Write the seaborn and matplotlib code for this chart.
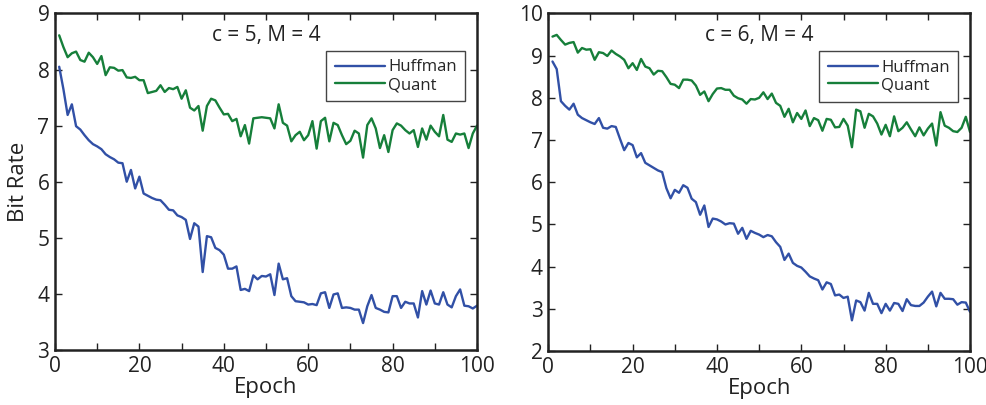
import numpy as np
import pandas as pd
import matplotlib
matplotlib.use("Agg")
import matplotlib.pyplot as plt
import seaborn as sns

epochs = list(range(1, 101))

huff_c5 = [8.05, 7.65, 7.19, 7.38, 6.99, 6.93, 6.83, 6.74, 6.67, 6.63,
           6.58, 6.49, 6.44, 6.40, 6.34, 6.33, 6.00, 6.21, 5.88, 6.09,
           5.79, 5.75, 5.71, 5.68, 5.67, 5.59, 5.50, 5.49, 5.40, 5.37,
           5.32, 4.98, 5.26, 5.20, 4.39, 5.03, 5.01, 4.82, 4.78, 4.70,
           4.45, 4.45, 4.49, 4.07, 4.09, 4.05, 4.33, 4.26, 4.32, 4.31,
           4.35, 3.98, 4.54, 4.26, 4.28, 3.96, 3.87, 3.86, 3.85, 3.81,
           3.82, 3.80, 4.01, 4.03, 3.75, 3.99, 4.01, 3.75, 3.76, 3.75,
           3.72, 3.72, 3.48, 3.78, 3.98, 3.75, 3.72, 3.68, 3.67, 3.96,
           3.96, 3.75, 3.86, 3.83, 3.83, 3.58, 4.05, 3.81, 4.06, 3.83,
           3.81, 4.03, 3.81, 3.76, 3.96, 4.08, 3.79, 3.78, 3.74, 3.79]

quant_c5 = [8.61, 8.40, 8.22, 8.29, 8.32, 8.17, 8.14, 8.30, 8.22, 8.10,
            8.24, 7.90, 8.04, 8.03, 7.98, 7.99, 7.86, 7.85, 7.87, 7.81,
            7.81, 7.58, 7.60, 7.62, 7.72, 7.60, 7.67, 7.65, 7.69, 7.48,
            7.63, 7.32, 7.27, 7.35, 6.91, 7.35, 7.48, 7.45, 7.32, 7.20,
            7.21, 7.08, 7.12, 6.81, 7.01, 6.68, 7.13, 7.14, 7.15, 7.14,
            7.13, 6.95, 7.38, 7.05, 7.00, 6.72, 6.83, 6.89, 6.74, 6.83,
            7.08, 6.59, 7.08, 7.14, 6.72, 7.05, 7.01, 6.83, 6.67, 6.73,
            6.91, 6.86, 6.43, 7.01, 7.13, 6.95, 6.60, 6.83, 6.53, 6.92,
            7.04, 7.00, 6.92, 6.86, 6.92, 6.62, 6.95, 6.75, 7.00, 6.89,
            6.81, 7.19, 6.75, 6.71, 6.86, 6.84, 6.86, 6.60, 6.86, 7.00]

huff_c6 = [8.86, 8.68, 7.92, 7.81, 7.72, 7.86, 7.60, 7.52, 7.47, 7.42,
           7.38, 7.52, 7.29, 7.27, 7.33, 7.31, 7.03, 6.76, 6.93, 6.88,
           6.59, 6.69, 6.46, 6.40, 6.34, 6.28, 6.24, 5.86, 5.62, 5.82,
           5.75, 5.93, 5.87, 5.61, 5.53, 5.23, 5.45, 4.94, 5.14, 5.12,
           5.07, 5.00, 5.03, 5.02, 4.78, 4.92, 4.66, 4.85, 4.80, 4.76,
           4.70, 4.75, 4.72, 4.58, 4.47, 4.16, 4.31, 4.09, 4.02, 3.98,
           3.88, 3.77, 3.72, 3.68, 3.46, 3.63, 3.59, 3.32, 3.34, 3.26,
           3.29, 2.73, 3.20, 3.16, 2.96, 3.38, 3.12, 3.12, 2.90, 3.12,
           2.96, 3.14, 3.12, 2.95, 3.23, 3.09, 3.07, 3.07, 3.15, 3.29,
           3.41, 3.06, 3.38, 3.24, 3.24, 3.23, 3.10, 3.16, 3.15, 2.93]

quant_c6 = [9.45, 9.49, 9.37, 9.26, 9.30, 9.32, 9.07, 9.18, 9.14, 9.15,
            8.90, 9.08, 9.06, 8.99, 9.12, 9.04, 8.98, 8.90, 8.70, 8.82,
            8.66, 8.92, 8.74, 8.70, 8.55, 8.64, 8.63, 8.49, 8.33, 8.31,
            8.23, 8.43, 8.43, 8.41, 8.29, 8.07, 8.15, 7.92, 8.09, 8.22,
            8.23, 8.19, 8.19, 8.05, 7.99, 7.96, 7.86, 7.97, 7.96, 8.00,
            8.13, 7.97, 8.10, 7.88, 7.81, 7.55, 7.74, 7.42, 7.64, 7.50,
            7.70, 7.33, 7.52, 7.47, 7.22, 7.50, 7.48, 7.30, 7.31, 7.50,
            7.34, 6.83, 7.72, 7.68, 7.29, 7.62, 7.56, 7.39, 7.13, 7.36,
            7.09, 7.56, 7.21, 7.29, 7.42, 7.25, 7.09, 7.30, 7.11, 7.27,
            7.39, 6.87, 7.66, 7.34, 7.29, 7.21, 7.19, 7.29, 7.55, 7.19]

titles = ["c = 5, M = 4", "c = 6, M = 4"]
series_names = ["Huffman", "Quant"]
colors = {"Huffman": "#3150a6", "Quant": "#167f3a"}

sns.set_style("ticks")
plt.rcParams["font.family"] = ["Open Sans", "DejaVu Sans"]

fig = plt.figure(figsize=(9.87, 4.05), dpi=100)
ax1 = fig.add_axes([0.0557, 0.1358, 0.4276, 0.831])
ax2 = fig.add_axes([0.5555, 0.1330, 0.4273, 0.834])

panels = [
    (ax1, huff_c5, quant_c5, (3, 9), range(3, 10)),
    (ax2, huff_c6, quant_c6, (2, 10), range(2, 11)),
]

for i, (ax, h, q, ylim, yt) in enumerate(panels):
    df = pd.DataFrame({
        "Epoch": epochs * 2,
        "Bit Rate": h + q,
        "Series": ["Huffman"] * len(h) + ["Quant"] * len(q),
    })
    sns.lineplot(data=df, x="Epoch", y="Bit Rate", hue="Series",
                 hue_order=series_names, palette=colors, ax=ax,
                 linewidth=1.7, estimator=None)
    ax.set_xlim(0, 100)
    ax.set_ylim(*ylim)
    ax.set_xticks(range(0, 101, 10))
    ax.set_xticklabels([str(v) if v % 20 == 0 else "" for v in range(0, 101, 10)])
    ax.set_yticks(list(yt))
    ax.tick_params(direction="in", top=True, right=True, length=5, width=1,
                   labelsize=15, pad=4, colors="#222222")
    for s in ax.spines.values():
        s.set_visible(True)
        s.set_linewidth(1.8)
        s.set_color("#222222")
    ax.set_xlabel("Epoch", fontsize=16, labelpad=0, color="#222222")
    if i == 0:
        ax.set_ylabel("Bit Rate", fontsize=16, labelpad=6, color="#222222")
    else:
        ax.set_ylabel("")
    ax.text(0.5, 0.935, titles[i], transform=ax.transAxes, ha="center",
            va="center", fontsize=15, color="#222222")
    leg = ax.legend(loc="upper right", bbox_to_anchor=(0.9716, 0.888),
                    borderaxespad=0, fancybox=False, framealpha=1,
                    edgecolor="#444444", fontsize=12, handlelength=3.0,
                    labelspacing=0.1, handletextpad=0.2, borderpad=0.5,
                    title=None)
    leg.get_frame().set_linewidth(1.0)

fig.savefig("out.png", dpi=100)
